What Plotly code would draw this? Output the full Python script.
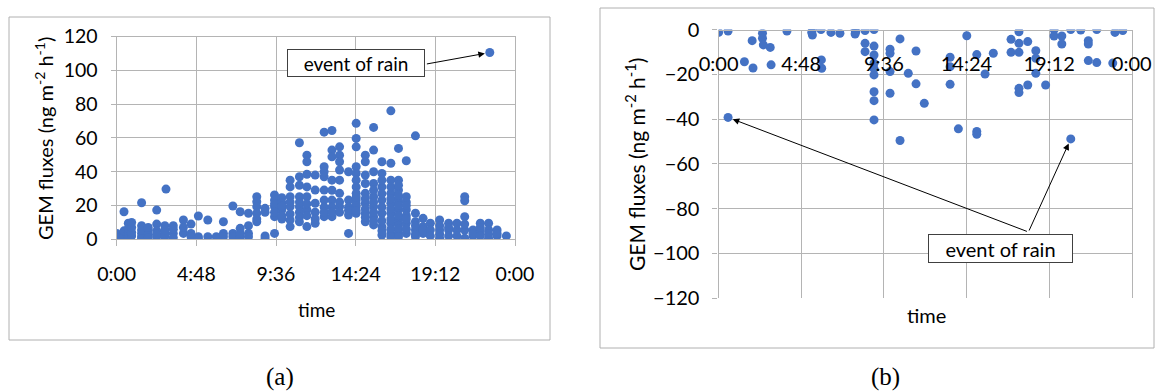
import plotly.graph_objects as go

# ---------------- data ----------------
# (a) positive fluxes: time of day in hours, flux in ng m-2 h-1
a_time = [
    0.0, 0.0,
    0.44, 0.44, 0.44, 0.44,
    0.7, 0.7, 0.7, 0.7, 0.7,
    0.9, 0.9, 0.9, 0.9,
    1.5, 1.5, 1.5, 1.5, 1.5, 1.5,
    1.9, 1.9, 1.9, 1.9,
    2.41, 2.41, 2.41, 2.41, 2.41,
    2.9, 2.9, 2.9, 2.9,
    2.97,
    3.41, 3.41, 3.41, 3.41,
    4.02, 4.02, 4.02,
    4.48, 4.48, 4.48,
    4.92, 4.92, 4.92,
    5.49, 5.49,
    6.0,
    6.43, 6.43, 6.43,
    7.0, 7.0, 7.0,
    7.44, 7.44, 7.44, 7.44,
    7.94, 7.94, 7.94, 7.94,
    8.44, 8.44, 8.44, 8.44, 8.44, 8.44,
    8.94, 8.94, 8.94, 8.94,
    9.51, 9.51, 9.51, 9.51, 9.51, 9.51, 9.51,
    9.95, 9.95, 9.95, 9.95, 9.95, 9.95,
    10.45, 10.45, 10.45, 10.45, 10.45, 10.45, 10.45, 10.45,
    11.01, 11.01, 11.01, 11.01, 11.01, 11.01, 11.01, 11.01, 11.01,
    11.46, 11.46, 11.46, 11.46, 11.46, 11.46, 11.46, 11.46, 11.46,
    11.96, 11.96, 11.96, 11.96, 11.96, 11.96,
    12.5, 12.5, 12.5, 12.5, 12.5, 12.5, 12.5, 12.5, 12.5,
    12.97, 12.97, 12.97, 12.97, 12.97, 12.97, 12.97, 12.97, 12.97,
    13.43, 13.43, 13.43, 13.43, 13.43, 13.43, 13.43, 13.43, 13.43,
    13.97, 13.97, 13.97, 13.97, 13.97, 13.97,
    14.43, 14.43, 14.43, 14.43, 14.43, 14.43, 14.43, 14.43, 14.43, 14.43, 14.43, 14.43, 14.43, 14.43,
    14.98, 14.98, 14.98, 14.98, 14.98, 14.98, 14.98, 14.98, 14.98, 14.98, 14.98,
    15.48, 15.48, 15.48, 15.48, 15.48, 15.48, 15.48, 15.48, 15.48, 15.48, 15.48, 15.48,
    15.98, 15.98, 15.98, 15.98, 15.98, 15.98, 15.98, 15.98, 15.98, 15.98, 15.98, 15.98,
    16.52, 16.52, 16.52, 16.52, 16.52, 16.52, 16.52, 16.52, 16.52, 16.52, 16.52, 16.52, 16.52, 16.52,
    16.98, 16.98, 16.98, 16.98, 16.98, 16.98, 16.98, 16.98, 16.98, 16.98, 16.98, 16.98, 16.98, 16.98,
    17.45, 17.45, 17.45, 17.45, 17.45, 17.45, 17.45, 17.45, 17.45, 17.45,
    18.0, 18.0, 18.0, 18.0, 18.0, 18.0, 18.0,
    18.46, 18.46, 18.46, 18.46,
    18.9, 18.9, 18.9,
    19.46, 19.46, 19.46, 19.46, 19.46,
    20.0, 20.0, 20.0, 20.0,
    20.5, 20.5, 20.5,
    20.97, 20.97, 20.97, 20.97, 20.97, 20.97,
    21.47, 21.47, 21.47,
    21.91, 21.91, 21.91, 21.91,
    22.41, 22.41, 22.41, 22.41,
    22.48,
    22.92, 22.92, 22.92,
    23.48,
]
a_flux = [
    3.5, 1.0,
    16.3, 3.0, 1.5, 5.0,
    3.5, 1.5, 6.5, 9.5, 0.5,
    2.0, 4.0, 7.0, 10.0,
    21.6, 8.0, 3.5, 1.5, 5.5, 0.5,
    5.5, 3.0, 1.0, 7.0,
    17.3, 9.0, 5.0, 1.5, 3.0,
    8.0, 3.5, 1.5, 5.5,
    29.7,
    8.0, 3.5, 1.0, 6.0,
    11.4, 3.5, 7.0,
    9.0, 3.5, 1.5,
    13.8, 1.5, 0.5,
    11.4, 1.5,
    1.5,
    10.4, 3.5, 1.5,
    19.7, 3.5, 1.5,
    16.3, 6.5, 1.5, 3.5,
    15.4, 8.0, 3.5, 1.5,
    25.2, 22.2, 19.3, 15.4, 10.4, 12.0,
    18.3, 2.0, 0.5, 16.0,
    26.2, 23.2, 19.3, 13.4, 3.5, 21.0, 16.0,
    24.6, 21.6, 17.5, 12.0, 14.0, 19.5,
    35.0, 31.0, 25.2, 19.3, 11.4, 7.5, 22.0, 15.0,
    57.1, 37.0, 32.0, 25.2, 19.3, 10.4, 22.0, 16.0, 13.0,
    49.8, 45.9, 31.0, 25.2, 17.5, 7.5, 21.0, 14.0, 38.5,
    38.0, 29.1, 21.3, 9.5, 16.0, 12.0,
    63.4, 42.9, 37.0, 29.1, 23.2, 13.4, 40.0, 19.0, 16.0,
    64.4, 52.8, 48.8, 35.0, 23.2, 13.4, 29.0, 19.0, 16.0,
    54.7, 49.8, 45.9, 41.0, 35.0, 27.2, 19.3, 22.0, 16.0,
    40.0, 23.2, 14.4, 3.5, 19.0, 17.0,
    68.6, 59.7, 54.7, 42.9, 39.0, 35.0, 31.0, 27.2, 23.2, 19.3, 15.4, 21.0, 25.0, 17.0,
    49.8, 45.9, 38.0, 33.0, 27.2, 21.3, 15.4, 10.4, 24.0, 18.0, 13.0,
    66.2, 52.8, 40.0, 33.0, 25.2, 19.3, 13.4, 8.5, 22.0, 16.0, 11.0, 29.0,
    45.9, 39.0, 31.0, 23.2, 15.4, 7.5, 2.5, 27.0, 19.0, 11.0, 5.0, 35.0,
    76.0, 45.0, 35.0, 27.2, 21.3, 15.4, 9.5, 3.5, 31.0, 24.0, 18.0, 12.0, 6.0, 1.5,
    53.8, 35.0, 29.1, 23.2, 17.5, 11.4, 3.5, 32.0, 26.0, 20.0, 14.0, 8.0, 6.0, 1.5,
    46.5, 25.2, 17.5, 9.5, 3.5, 22.0, 14.0, 12.0, 6.0, 20.0,
    61.2, 15.4, 10.4, 5.5, 1.5, 3.0, 8.0,
    12.4, 7.5, 3.5, 5.5,
    9.5, 5.5, 2.0,
    11.4, 5.5, 0.6, 8.0, 3.0,
    9.5, 5.5, 2.0, 7.0,
    9.5, 5.5, 2.0,
    25.2, 22.8, 13.4, 5.5, 0.6, 9.0,
    5.5, 2.0, 3.5,
    9.5, 4.5, 2.0, 7.0,
    9.5, 5.5, 0.6, 3.0,
    110.5,
    2.0, 5.5, 3.5,
    2.0,
]

# (b) negative fluxes
b_time = [
    0.0, 0.55, 0.55, 1.5, 2.0, 1.95, 2.55, 2.55, 2.6, 3.0, 3.05, 3.97,
    5.41, 5.45, 5.45, 5.95, 5.97, 5.99, 6.53, 7.05,
    7.93, 7.93, 7.97, 8.51, 8.51, 8.51,
    9.03, 9.03, 9.03, 9.03, 9.03, 9.03, 9.03, 9.03, 9.03,
    9.96, 9.96, 9.96, 9.96, 10.54, 10.54, 11.02, 11.47, 11.47, 11.95,
    13.45, 13.45, 13.45, 13.93, 14.42, 15.0, 15.0, 15.0, 15.48, 15.96,
    16.99, 16.99, 17.45, 17.45, 17.45, 17.45, 17.45, 17.96, 17.96,
    18.43, 18.43, 18.43, 19.0, 19.49, 19.49, 19.94, 19.94,
    20.46, 20.46, 21.04, 21.48, 21.48, 21.48, 21.97, 21.97, 22.9, 23.03, 23.48,
]
b_flux = [
    -1.3, -0.7, -39.3, -14.4, -17.2, -5.0, -1.7, -3.9, -6.9, -8.0, -15.8, -0.7,
    -1.3, 0.0, -2.5, 0.0, -13.6, -17.3, -1.3, -1.7,
    -0.2, -2.0, -1.0, -0.5, -6.2, -9.9,
    0.0, -7.4, -11.4, -15.1, -17.5, -20.3, -27.8, -31.8, -40.4,
    -8.8, -10.6, -18.8, -28.5, -4.2, -49.6, -19.6, -9.6, -24.3, -33.0,
    -12.4, -16.6, -24.5, -44.4, -2.8, -11.2, -45.6, -46.8, -19.9, -10.6,
    -4.4, -10.2, -1.0, -6.2, -10.2, -26.3, -28.2, -5.4, -24.8,
    -9.5, -12.9, -19.6, -24.8, 0.0, -2.9, -2.9, -6.5,
    0.0, -48.9, -0.2, -5.0, -6.5, -13.9, 0.0, -14.8, -15.0, -1.3, -0.5,
]

tick_hours = [0, 4.8, 9.6, 14.4, 19.2, 24]
tick_labels = ["0:00", "4:48", "9:36", "14:24", "19:12", "0:00"]
a_yticks = [0, 20, 40, 60, 80, 100, 120]
b_yticks = [-120, -100, -80, -60, -40, -20, 0]
ylabel = "GEM fluxes (ng m<sup>-2</sup> h<sup>-1</sup>)"

# ---------------- style ----------------
W, H = 1157, 392
FONT = "Lato"
BLUE = "#4472C4"
GRID = "#b4b4b4"

def px(x):
    return x / W

def py(y):
    return (H - y) / H

fig = go.Figure()
fig.add_trace(go.Scatter(x=a_time, y=a_flux, mode="markers", xaxis="x", yaxis="y",
                         marker=dict(color=BLUE, size=9, line=dict(width=0)), showlegend=False))
fig.add_trace(go.Scatter(x=b_time, y=b_flux, mode="markers", xaxis="x2", yaxis="y2",
                         marker=dict(color=BLUE, size=9, line=dict(width=0)), showlegend=False))

def axis_common(fsize, mirror=True):
    d = dict(showgrid=True, gridcolor=GRID, gridwidth=1.3, zeroline=False,
             showline=True, linecolor=GRID, linewidth=1.3,
             tickfont=dict(family=FONT, size=fsize, color="#000000"),
             fixedrange=True, automargin=False)
    if mirror:
        d["mirror"] = True
    return d

# panel geometry (pixels)
aL, aR, aT, aB = 116.7, 515.0, 36.5, 239.3
bL, bR, bT, bB = 718.6, 1131.7, 29.5, 298.0

fig.update_layout(
    template="none",
    width=W, height=H, margin=dict(l=0, r=0, t=0, b=0, pad=0, autoexpand=False),
    paper_bgcolor="white", plot_bgcolor="white", showlegend=False,
    font=dict(family=FONT, color="#000000"),
    xaxis=dict(domain=[px(aL), px(aR)], anchor="y", range=[0, 24],
               tickvals=tick_hours, ticktext=tick_labels,
               ticks="outside", ticklen=6, tickcolor=GRID, ticklabelstandoff=11,
               **axis_common(19.5)),
    yaxis=dict(domain=[py(aB), py(aT)], anchor="x", range=[0, 120],
               tickvals=a_yticks, ticks="outside", ticklen=5, tickcolor=GRID,
               ticklabelstandoff=9, **axis_common(19.5)),
    xaxis2=dict(domain=[px(bL), px(bR)], anchor="free", position=py(bT), side="bottom",
                range=[0, 24], tickvals=tick_hours, ticktext=tick_labels,
                ticks="", ticklabelstandoff=16, **axis_common(20, mirror=False)),
    yaxis2=dict(domain=[py(bB), py(bT)], anchor="x2", range=[-120, 0],
                tickvals=b_yticks, ticks="outside", ticklen=5, tickcolor=GRID,
                ticklabelstandoff=9, **axis_common(20)),
)

# panel frames
fig.add_shape(type="rect", xref="paper", yref="paper", x0=px(9), x1=px(550), y0=py(340), y1=py(17),
              line=dict(color="#b0b0b0", width=1), layer="below")
fig.add_shape(type="rect", xref="paper", yref="paper", x0=px(600), x1=px(1154), y0=py(348), y1=py(8),
              line=dict(color="#b0b0b0", width=1), layer="below")

C = dict(xanchor="center", yanchor="middle", showarrow=False)
ann = []
# axis titles
ann.append(dict(text="time", xref="paper", yref="paper", x=px(316), y=py(309),
                font=dict(family=FONT, size=19), **C))
ann.append(dict(text="time", xref="paper", yref="paper", x=px(926), y=py(315),
                font=dict(family=FONT, size=20), **C))
ann.append(dict(text=ylabel, xref="paper", yref="paper", x=px(44), y=py(138), textangle=-90,
                font=dict(family=FONT, size=20), **C))
ann.append(dict(text=ylabel, xref="paper", yref="paper", x=px(635), y=py(165), textangle=-90,
                font=dict(family=FONT, size=21), **C))

# event-of-rain callouts
ann.append(dict(text="event of rain", xref="x", yref="y", x=14.43, y=104.2,
                font=dict(family=FONT, size=19), bgcolor="white", bordercolor="#404040",
                borderwidth=1, width=134, height=24, **C))
ann.append(dict(text="", xref="x", yref="y", x=22.48, y=110.5, axref="x", ayref="y",
                ax=18.6, ay=103.6, showarrow=True, arrowhead=2, arrowsize=1.3, arrowwidth=1,
                arrowcolor="#000000", standoff=5))
ann.append(dict(text="event of rain", xref="x2", yref="y2", x=16.35, y=-97.9,
                font=dict(family=FONT, size=20), bgcolor="white", bordercolor="#404040",
                borderwidth=1, width=141, height=25, **C))
ann.append(dict(text="", xref="x2", yref="y2", x=0.55, y=-39.3, axref="x2", ayref="y2",
                ax=18.0, ay=-90.5, showarrow=True, arrowhead=2, arrowsize=1.3, arrowwidth=1,
                arrowcolor="#000000", standoff=5))
ann.append(dict(text="", xref="x2", yref="y2", x=20.46, y=-48.9, axref="x2", ayref="y2",
                ax=18.0, ay=-90.5, showarrow=True, arrowhead=2, arrowsize=1.3, arrowwidth=1,
                arrowcolor="#000000", standoff=5))

# sub-figure captions
ann.append(dict(text="(a)", xref="paper", yref="paper", x=px(280), y=py(377),
                font=dict(family="Liberation Serif", size=25), **C))
ann.append(dict(text="(b)", xref="paper", yref="paper", x=px(885), y=py(377),
                font=dict(family="Liberation Serif", size=25), **C))

fig.update_layout(annotations=ann)
fig.write_html("out.html")
